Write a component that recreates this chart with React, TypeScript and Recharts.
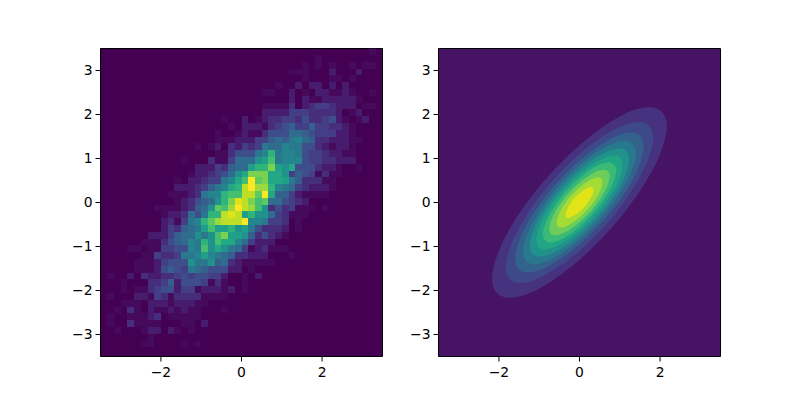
import { CartesianGrid, ReferenceLine, Scatter, ScatterChart, XAxis, YAxis } from 'recharts';

const CHART_W = 400;
const CHART_H = 400;
const PLOT_W = 282;
const PLOT_H = 308;
const MARGIN = { top: 48.5, right: 17.5, bottom: 13.5, left: 40.5 };
const AXIS_MIN = -3.5;
const AXIS_MAX = 3.5;

const X_TICKS = [-2, 0, 2];
const Y_TICKS = [-3, -2, -1, 0, 1, 2, 3];

// histogram bins
const BIN_W = 1 / 6;
const BIN_H = 0.1545;
const BIN_TOP = 3.507;

// counts on a 0-20 scale, top row first, trailing zeros left out
const HIST_ROWS: number[][] = [
  [0,0,0,0,0,0,0,0,0,0,0,0,0,0,0,0,0,0,0,0,0,0,0,0,0,0,0,0,0,0,0,0,0,0,0,0,0,0,0,0,1],
  [0,0,0,0,0,0,0,0,0,0,0,0,0,0,0,0,0,0,0,0,0,0,0,0,0,0,0,0,0,0,0,0,1],
  [0,0,0,0,0,0,0,0,0,0,0,0,0,0,0,0,0,0,0,0,0,0,0,0,0,0,0,0,0,0,1,0,1,0,1,0,0,1,0,1,1],
  [0,0,0,0,0,0,0,0,0,0,0,0,0,0,0,0,0,0,0,0,0,0,0,0,0,0,0,0,1,1,1,0,0,0,2,0,0,0,2],
  [0,0,0,0,0,0,0,0,0,0,0,0,0,0,0,0,0,0,0,0,0,0,0,0,0,0,0,0,0,0,1,0,0,0,1,1,0,1],
  [0,0,0,0,0,0,0,0,0,0,0,0,0,0,0,0,0,0,0,0,0,0,0,0,0,0,1,0,0,2,0,2,2,0,2,0,2],
  [0,0,0,0,0,0,0,0,0,0,0,0,0,0,0,0,0,0,0,0,0,0,0,0,1,1,0,0,2,0,1,0,2,2,1,1,2,1,0,0,1],
  [0,0,0,0,0,0,0,0,0,0,0,0,0,0,0,0,0,0,0,0,0,0,0,0,0,0,0,0,2,0,2,1,1,2,2,2,2,2,1],
  [0,0,0,0,0,0,0,0,0,0,0,0,0,0,0,0,0,0,0,0,0,0,0,0,1,1,1,1,3,0,2,3,4,4,3,2,2,2,0,1,1],
  [0,0,0,0,0,0,0,0,0,0,0,0,0,0,0,0,0,0,0,0,0,0,0,0,2,2,2,2,4,4,4,3,3,3,3,2,0,1,2],
  [0,0,0,0,0,0,0,0,0,0,0,0,0,0,0,0,0,0,1,0,0,2,0,1,2,3,3,4,4,3,5,3,3,4,5,2,1,0,1,2],
  [0,0,0,0,0,0,0,0,0,0,0,0,0,0,0,0,0,0,0,1,0,2,2,2,1,3,4,5,6,4,4,6,4,4,3,3,2,1],
  [0,0,0,0,0,0,0,0,0,0,0,0,0,0,0,0,0,1,0,0,1,2,1,1,3,5,5,5,7,7,6,5,4,4,4,2,2,1],
  [0,0,0,0,0,0,0,0,0,0,0,0,0,0,0,0,0,1,1,1,2,2,2,4,4,6,7,6,8,9,7,6,3,3,2,2,2,1,1],
  [0,0,0,0,0,0,0,0,0,0,0,0,0,0,1,0,1,2,0,3,2,4,3,4,8,7,7,9,8,8,5,5,3,2,1,2,2,1],
  [0,0,0,0,0,0,0,0,0,0,0,0,0,0,0,0,0,1,1,3,5,5,5,8,9,13,8,9,9,8,5,4,4,3,2,2,1,1],
  [0,0,0,0,0,0,0,0,0,0,0,0,1,0,0,0,3,1,1,4,7,7,7,10,11,14,8,9,9,9,5,4,4,3,3,2,2,2],
  [0,0,0,0,0,0,0,0,0,0,0,0,0,0,2,2,2,4,3,6,7,7,11,13,13,16,11,10,12,5,5,5,3,2,2,1,0,0,1],
  [0,0,0,0,0,0,0,0,0,0,0,0,0,1,2,2,3,4,5,7,10,12,16,16,16,12,12,10,4,6,5,4,1,3,1,1],
  [0,0,0,0,0,0,0,0,0,0,0,1,0,2,2,3,4,4,8,9,12,14,20,15,16,12,12,11,8,6,3,3,3,1,1],
  [0,0,0,0,0,0,0,0,0,0,0,2,2,2,3,4,6,8,9,12,13,18,20,17,17,13,9,8,7,4,3,2,2,2,1],
  [0,0,0,0,0,0,0,0,0,0,1,1,1,2,3,8,9,9,13,14,14,18,18,15,20,12,6,6,4,2,1,1,1,1],
  [0,0,0,0,0,0,0,0,0,0,0,1,2,3,5,6,7,10,13,16,19,18,16,14,15,7,7,5,4,3,2],
  [0,0,0,0,0,0,0,0,1,1,1,1,2,3,6,7,10,15,14,17,20,18,17,14,10,3,5,3,4,1,1,1,0,1],
  [0,0,0,0,0,0,0,0,0,1,2,2,3,7,5,8,13,13,18,19,18,11,13,10,10,7,4,3,1,1,1],
  [0,0,0,0,0,0,0,0,0,2,3,1,4,8,9,13,15,17,18,18,18,20,9,9,8,4,4,3,0,1],
  [0,0,0,0,0,0,0,0,0,2,4,3,6,7,8,11,14,11,11,13,10,11,8,5,3,3,3,2,0,1],
  [0,0,0,0,0,0,0,2,2,2,4,6,7,7,10,8,10,14,16,11,11,10,6,3,5,3,2,1],
  [0,0,0,0,0,0,1,1,1,3,5,6,7,9,8,13,10,14,12,12,9,7,4,2,2,2],
  [0,0,0,0,1,1,0,1,1,4,4,5,5,9,8,14,10,12,10,8,7,4,1,2,3,1,1,1],
  [0,0,0,0,0,0,1,1,4,3,3,4,8,8,9,11,9,8,7,6,3,3,2,2,2,0,0,0,1],
  [0,0,0,0,0,1,1,1,2,4,5,5,5,10,8,8,10,6,7,3,2,1,1,1,1,1],
  [0,0,0,0,0,1,1,1,2,5,6,5,4,8,7,6,5,5,5,2,2,0,1],
  [0,1,0,0,2,0,3,2,2,3,3,4,5,4,5,5,4,4,2,0,0,1,0,2],
  [0,0,0,1,0,0,0,3,3,4,6,2,5,5,5,4,1,3,1,0,0,1],
  [0,0,0,1,0,1,1,3,4,5,5,2,4,4,1,2,2,2,1,2,0,1],
  [0,1,0,0,0,2,2,1,4,3,1,3,3,3,3,1,1,1,1],
  [0,0,0,1,1,1,0,2,2,2,1,2,2,2,1,1],
  [0,0,1,0,3,1,0,2,1,1,2,1,2,1,1,0,0,0,1],
  [0,1,0,0,1,1,1,2,3,0,1,1,1,1,1],
  [0,1,0,0,3,1,1,1,1,0,0,0,1,1,0,2],
  [0,0,1,0,0,0,1,2,2,0,2,1,0,1],
  [0,0,0,0,0,0,0,1],
  [0,0,0,0,0,0,1,1,0,0,0,0,1,0,1],
];

// viridis, one colour per count; the faint end is stretched
const HIST_COLORS = [
  '#440154', '#450a5c', '#471b6d', '#472e7c', '#433e85', '#3d4e8a', '#355f8d',
  '#2f6c8e', '#2a788e', '#25858e', '#21918c', '#1fa088', '#22a884', '#2fb47c',
  '#44bf70', '#5ec962', '#7ad151', '#9bd93c', '#bddf26', '#dfe318', '#fde725',
];

// contour outlines, outermost level first
const CONTOUR_XS = [
  [2.17, 1.88, 1.09, 0, -1.09, -1.88, -2.17, -1.88, -1.09, 0, 1.09, 1.88],
  [1.83, 1.58, 0.92, 0, -0.92, -1.58, -1.83, -1.58, -0.92, 0, 0.92, 1.58],
  [1.59, 1.38, 0.8, 0, -0.8, -1.38, -1.59, -1.38, -0.8, 0, 0.8, 1.38],
  [1.4, 1.21, 0.7, 0, -0.7, -1.21, -1.4, -1.21, -0.7, 0, 0.7, 1.21],
  [1.23, 1.07, 0.62, 0, -0.62, -1.07, -1.23, -1.07, -0.62, 0, 0.62, 1.07],
  [1.07, 0.93, 0.54, 0, -0.54, -0.93, -1.07, -0.93, -0.54, 0, 0.54, 0.93],
  [0.91, 0.79, 0.46, 0, -0.46, -0.79, -0.91, -0.79, -0.46, 0, 0.46, 0.79],
  [0.75, 0.65, 0.38, 0, -0.38, -0.65, -0.75, -0.65, -0.38, 0, 0.38, 0.65],
  [0.57, 0.49, 0.29, 0, -0.29, -0.49, -0.57, -0.49, -0.29, 0, 0.29, 0.49],
  [0.35, 0.3, 0.18, 0, -0.18, -0.3, -0.35, -0.3, -0.18, 0, 0.18, 0.3],
];
const CONTOUR_YS = [
  [1.74, 2.15, 2.0, 1.3, 0.26, -0.85, -1.74, -2.15, -2.0, -1.3, -0.26, 0.85],
  [1.46, 1.82, 1.68, 1.1, 0.22, -0.72, -1.46, -1.82, -1.68, -1.1, -0.22, 0.72],
  [1.27, 1.58, 1.46, 0.95, 0.19, -0.62, -1.27, -1.58, -1.46, -0.95, -0.19, 0.62],
  [1.12, 1.39, 1.29, 0.84, 0.17, -0.55, -1.12, -1.39, -1.29, -0.84, -0.17, 0.55],
  [0.98, 1.22, 1.13, 0.74, 0.15, -0.48, -0.98, -1.22, -1.13, -0.74, -0.15, 0.48],
  [0.86, 1.06, 0.98, 0.64, 0.13, -0.42, -0.86, -1.06, -0.98, -0.64, -0.13, 0.42],
  [0.73, 0.9, 0.84, 0.55, 0.11, -0.36, -0.73, -0.9, -0.84, -0.55, -0.11, 0.36],
  [0.6, 0.74, 0.69, 0.45, 0.09, -0.29, -0.6, -0.74, -0.69, -0.45, -0.09, 0.29],
  [0.46, 0.57, 0.52, 0.34, 0.07, -0.22, -0.46, -0.57, -0.52, -0.34, -0.07, 0.22],
  [0.28, 0.35, 0.32, 0.21, 0.04, -0.14, -0.28, -0.35, -0.32, -0.21, -0.04, 0.14],
];
const CONTOUR_BG = '#471365';
const CONTOUR_COLORS = [
  '#46327e', '#3e4989', '#33638d', '#29798e', '#21918c',
  '#21a685', '#3aba76', '#6ccd5a', '#a5db36', '#e2e418',
];

const histCells = HIST_ROWS.flatMap((row, r) =>
  row.flatMap((count, c) =>
    count > 0 ? [{ x: AXIS_MIN + (c + 0.5) * BIN_W, y: BIN_TOP - (r + 0.5) * BIN_H, count }] : [],
  ),
);

const CELL_W = (PLOT_W / (AXIS_MAX - AXIS_MIN)) * BIN_W;
const CELL_H = (PLOT_H / (AXIS_MAX - AXIS_MIN)) * BIN_H;

function HistCell(props: any) {
  return (
    <rect
      x={props.cx - CELL_W / 2}
      y={props.cy - CELL_H / 2}
      width={CELL_W}
      height={CELL_H}
      fill={HIST_COLORS[props.payload.count]}
      shapeRendering="crispEdges"
    />
  );
}

/** Closed Catmull-Rom path through the outline points. */
function closedPath(pts: { x: number; y: number }[]): string {
  const n = pts.length;
  let d = `M${pts[0].x},${pts[0].y}`;
  for (let i = 0; i < n; i++) {
    const p0 = pts[(i - 1 + n) % n];
    const p1 = pts[i];
    const p2 = pts[(i + 1) % n];
    const p3 = pts[(i + 2) % n];
    d += `C${p1.x + (p2.x - p0.x) / 6},${p1.y + (p2.y - p0.y) / 6},${p2.x - (p3.x - p1.x) / 6},${p2.y - (p3.y - p1.y) / 6},${p2.x},${p2.y}`;
  }
  return `${d}Z`;
}

const tickText = (value: number) => String(value).replace('-', '\u2212');

function axes() {
  const tick = { fill: '#000', fontSize: 13.9, fontFamily: 'DejaVu Sans' };
  return [
    <XAxis
      key="x"
      type="number"
      dataKey="x"
      domain={[AXIS_MIN, AXIS_MAX]}
      ticks={X_TICKS}
      tickFormatter={tickText}
      allowDataOverflow
      interval={0}
      height={30}
      stroke="#000"
      tick={tick}
      tickSize={5}
      tickMargin={6}
    />,
    <YAxis
      key="y"
      type="number"
      dataKey="y"
      domain={[AXIS_MIN, AXIS_MAX]}
      ticks={Y_TICKS}
      tickFormatter={tickText}
      allowDataOverflow
      interval={0}
      width={60}
      stroke="#000"
      tick={tick}
      tickSize={5}
      tickMargin={3}
    />,
  ];
}

function spines() {
  return [
    <ReferenceLine key="top" y={AXIS_MAX} stroke="#000" ifOverflow="visible" />,
    <ReferenceLine key="right" x={AXIS_MAX} stroke="#000" ifOverflow="visible" />,
  ];
}

function HistogramChart() {
  return (
    <ScatterChart width={CHART_W} height={CHART_H} margin={MARGIN}>
      <CartesianGrid horizontal={false} vertical={false} fill={HIST_COLORS[0]} />
      {axes()}
      <Scatter data={histCells} shape={HistCell} isAnimationActive={false} />
      {spines()}
    </ScatterChart>
  );
}

function ContourChart() {
  return (
    <ScatterChart width={CHART_W} height={CHART_H} margin={MARGIN}>
      <CartesianGrid horizontal={false} vertical={false} fill={CONTOUR_BG} />
      {axes()}
      {CONTOUR_COLORS.map((color, level) => (
        <Scatter
          key={color}
          data={CONTOUR_XS[level].map((x, i) => ({ x, y: CONTOUR_YS[level][i] }))}
          shape={() => <g />}
          line={(lineProps: any) => <path d={closedPath(lineProps.points)} fill={color} stroke="none" />}
          isAnimationActive={false}
        />
      ))}
      {spines()}
    </ScatterChart>
  );
}

export default function App() {
  return (
    <div style={{ position: 'absolute', left: 0, top: 0, width: 800, height: 400, background: '#fff' }}>
      <div style={{ position: 'absolute', left: 0, top: 0 }}>
        <HistogramChart />
      </div>
      <div style={{ position: 'absolute', left: 338, top: 0 }}>
        <ContourChart />
      </div>
    </div>
  );
}
